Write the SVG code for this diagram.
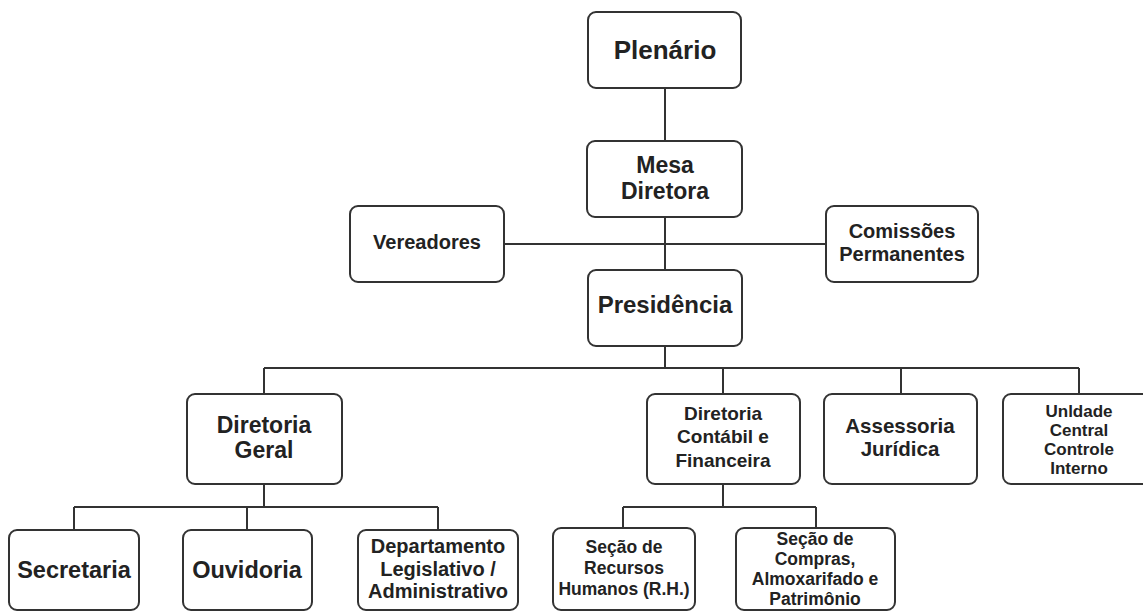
<svg xmlns="http://www.w3.org/2000/svg" width="1143" height="612" viewBox="0 0 1143 612">
<style>
.box{fill:#fff;stroke:#333;stroke-width:2}
.ln{fill:none;stroke:#333;stroke-width:2}
text{font-family:"Liberation Sans",Arial,sans-serif;font-weight:bold;fill:#222;text-anchor:middle}
</style>
<rect width="1143" height="612" fill="#fff"/>
<g id="connectors" class="ln">
<path d="M665 89V141M665 217V270M504 244H826M665 346V368M264 368H1079M264 368V394M723 368V394M901 368V394M1079 368V394"/>
<path d="M264 484V507M74 507H438M74 507V530M247 507V530M438 507V530"/>
<path d="M723 484V507M623 507H816M623 507V528M816 507V528"/>
</g>
<g id="plenario"><rect class="box" x="588" y="12" width="153" height="76" rx="8"/><text x="665" y="59" font-size="26">Plenário</text></g>
<g id="mesa"><rect class="box" x="587" y="141" width="155" height="76" rx="8"/><text x="665" y="173" font-size="23">Mesa</text><text x="665" y="199" font-size="23">Diretora</text></g>
<g id="vereadores"><rect class="box" x="350" y="206" width="154" height="76" rx="8"/><text x="427" y="249" font-size="20">Vereadores</text></g>
<g id="comissoes"><rect class="box" x="826" y="206" width="152" height="76" rx="8"/><text x="902" y="238" font-size="20">Comissões</text><text x="902" y="261" font-size="20">Permanentes</text></g>
<g id="presidencia"><rect class="box" x="588" y="270" width="154" height="76" rx="8"/><text x="665" y="313" font-size="24">Presidência</text></g>
<g id="diretoria-geral"><rect class="box" x="187" y="394" width="155" height="90" rx="8"/><text x="264" y="433" font-size="23">Diretoria</text><text x="264" y="458" font-size="23">Geral</text></g>
<g id="diretoria-contabil"><rect class="box" x="647" y="394" width="153" height="90" rx="8"/><text x="723" y="420" font-size="19">Diretoria</text><text x="723" y="443" font-size="19">Contábil e</text><text x="723" y="467" font-size="19">Financeira</text></g>
<g id="assessoria"><rect class="box" x="824" y="394" width="153" height="90" rx="8"/><text x="900" y="433" font-size="20.5">Assessoria</text><text x="900" y="456" font-size="20.5">Jurídica</text></g>
<g id="unidade"><rect class="box" x="1003" y="394" width="152" height="90" rx="8"/><text x="1079" y="417" font-size="17">Unldade</text><text x="1079" y="436" font-size="17">Central</text><text x="1079" y="455" font-size="17">Controle</text><text x="1079" y="474" font-size="17">Interno</text></g>
<g id="secretaria"><rect class="box" x="9" y="530" width="130" height="80" rx="8"/><text x="74" y="578" font-size="23.5">Secretaria</text></g>
<g id="ouvidoria"><rect class="box" x="183" y="530" width="129" height="80" rx="8"/><text x="247" y="578" font-size="23.5">Ouvidoria</text></g>
<g id="departamento"><rect class="box" x="358" y="530" width="160" height="80" rx="8"/><text x="438" y="553" font-size="20">Departamento</text><text x="438" y="576" font-size="20">Legislativo /</text><text x="438" y="598" font-size="20">Administrativo</text></g>
<g id="secao-rh"><rect class="box" x="553" y="528" width="142" height="82" rx="8"/><text x="624" y="553" font-size="17.5">Seção de</text><text x="624" y="574" font-size="17.5">Recursos</text><text x="624" y="595" font-size="17.5">Humanos (R.H.)</text></g>
<g id="secao-compras"><rect class="box" x="736" y="528" width="159" height="82" rx="8"/><text x="815" y="545" font-size="17.5">Seção de</text><text x="815" y="565" font-size="17.5">Compras,</text><text x="815" y="585" font-size="17.5">Almoxarifado e</text><text x="815" y="605" font-size="17.5">Patrimônio</text></g>
</svg>
